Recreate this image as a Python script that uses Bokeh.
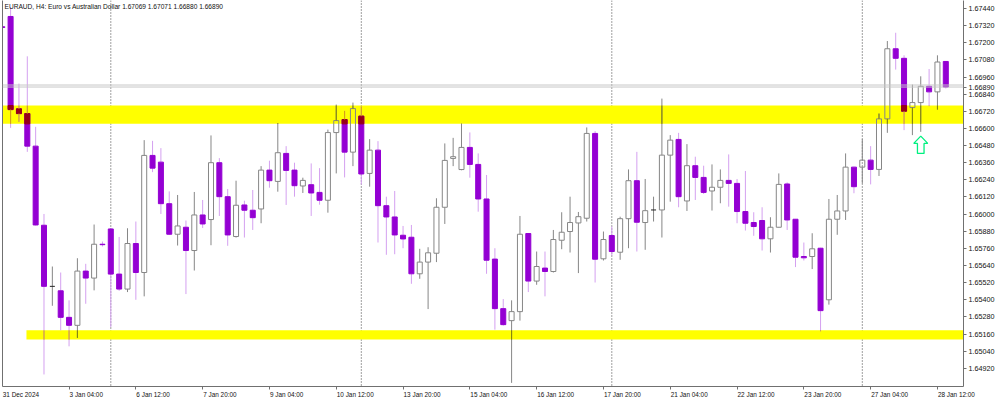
import numpy as np
from bokeh.plotting import figure
from bokeh.models import (FixedTicker, LinearAxis, PrintfTickFormatter, Span, Label, Range1d)
from bokeh.embed import file_html
from bokeh.resources import INLINE

# ---------------- data (EURAUD H4) ----------------
opens = [1.67312, 1.67384, 1.66737, 1.66704, 1.66476, 1.65922, 1.65494, 1.65463, 1.65277, 1.65221,
         1.65601, 1.65552, 1.65789, 1.65896, 1.65580, 1.65475, 1.65794, 1.65591, 1.66411, 1.66364,
         1.66073, 1.65859, 1.65908, 1.65745, 1.65994, 1.65962, 1.66360, 1.66122, 1.65843, 1.66064,
         1.66027, 1.66036, 1.66308, 1.66229, 1.66425, 1.66308, 1.66197, 1.66206, 1.66152, 1.66097,
         1.66571, 1.66662, 1.66434, 1.66686, 1.66285, 1.66448, 1.66059, 1.65980, 1.65852, 1.65838,
         1.65582, 1.65664, 1.65726, 1.66048, 1.66390, 1.66312, 1.66467, 1.66348, 1.66106, 1.65685,
         1.65338, 1.65254, 1.65317, 1.65864, 1.65531, 1.65622, 1.65598, 1.65817, 1.65878, 1.65938,
         1.65971, 1.66565, 1.65687, 1.65850, 1.65733, 1.65968, 1.66234, 1.65941, 1.66029, 1.66029,
         1.66413, 1.66523, 1.66092, 1.66339, 1.66257, 1.66162, 1.66188, 1.66236, 1.66215, 1.66018,
         1.65941, 1.65955, 1.65827, 1.65908, 1.66211, 1.65964, 1.65703, 1.65703, 1.65761, 1.65400,
         1.65964, 1.66022, 1.66329, 1.66329, 1.66378, 1.66313, 1.66667, 1.67158, 1.67091, 1.66746,
         1.66781, 1.66895, 1.66856, 1.67069]
highs = [1.67318, 1.67449, 1.66914, 1.67105, 1.66611, 1.66001, 1.65633, 1.65591, 1.65396, 1.65691,
         1.65652, 1.65927, 1.65808, 1.65900, 1.65840, 1.65901, 1.65948, 1.66518, 1.66513, 1.66462,
         1.66159, 1.66134, 1.65955, 1.66155, 1.66099, 1.66551, 1.66392, 1.66176, 1.66234, 1.66094,
         1.66169, 1.66336, 1.66374, 1.66637, 1.66476, 1.66360, 1.66255, 1.66355, 1.66322, 1.66592,
         1.66767, 1.66723, 1.66781, 1.66755, 1.66525, 1.66511, 1.66122, 1.66162, 1.65917, 1.65924,
         1.65757, 1.65768, 1.66111, 1.66495, 1.66534, 1.66634, 1.66572, 1.66425, 1.66274, 1.65761,
         1.65405, 1.65396, 1.65987, 1.65866, 1.65738, 1.65738, 1.65889, 1.66013, 1.66122, 1.66015,
         1.66607, 1.66581, 1.65878, 1.65913, 1.65982, 1.66313, 1.66436, 1.66246, 1.66122, 1.66809,
         1.66553, 1.66569, 1.66490, 1.66402, 1.66339, 1.66348, 1.66313, 1.66418, 1.66246, 1.66302,
         1.66013, 1.66048, 1.65978, 1.66285, 1.66222, 1.65966, 1.65801, 1.65866, 1.65764, 1.66106,
         1.66134, 1.66425, 1.66332, 1.66525, 1.66476, 1.66704, 1.67212, 1.67270, 1.67112, 1.66907,
         1.66965, 1.67016, 1.67112, 1.67071]
lows = [1.67302, 1.66604, 1.66646, 1.66436, 1.65920, 1.64877, 1.65358, 1.65186, 1.65074, 1.65133,
        1.65372, 1.65466, 1.65773, 1.65209, 1.65463, 1.65454, 1.65400, 1.65424, 1.66294, 1.66001,
        1.65854, 1.65780, 1.65440, 1.65605, 1.65903, 1.65782, 1.65987, 1.65778, 1.65836, 1.65836,
        1.65889, 1.65936, 1.66185, 1.66157, 1.66064, 1.66122, 1.66148, 1.65987, 1.66066, 1.66010,
        1.66285, 1.66257, 1.66336, 1.66207, 1.66192, 1.65801, 1.65715, 1.65719, 1.65761, 1.65512,
        1.65547, 1.65335, 1.65664, 1.65931, 1.66336, 1.66307, 1.66255, 1.66017, 1.65582, 1.65191,
        1.65219, 1.64818, 1.65254, 1.65454, 1.65505, 1.65424, 1.65591, 1.65754, 1.65731, 1.65587,
        1.65948, 1.65521, 1.65675, 1.65710, 1.65680, 1.65761, 1.65738, 1.65750, 1.65948, 1.65836,
        1.66087, 1.66048, 1.66022, 1.66099, 1.66141, 1.66025, 1.66076, 1.66052, 1.65936, 1.65885,
        1.65848, 1.65745, 1.65731, 1.65906, 1.65889, 1.65629, 1.65675, 1.65615, 1.65179, 1.65366,
        1.65855, 1.65959, 1.66146, 1.66215, 1.66208, 1.66267, 1.66569, 1.67012, 1.66588, 1.66553,
        1.66576, 1.66756, 1.66732, 1.66880]
closes = [1.67307, 1.66732, 1.66704, 1.66476, 1.65924, 1.65494, 1.65494, 1.65277, 1.65221, 1.65601,
          1.65552, 1.65789, 1.65786, 1.65580, 1.65475, 1.65794, 1.65591, 1.66411, 1.66322, 1.66073,
          1.65859, 1.65917, 1.65745, 1.65994, 1.65931, 1.66360, 1.66122, 1.65854, 1.66062, 1.66027,
          1.65975, 1.66308, 1.66234, 1.66430, 1.66306, 1.66199, 1.66236, 1.66148, 1.66097, 1.66571,
          1.66655, 1.66434, 1.66739, 1.66281, 1.66448, 1.66059, 1.65980, 1.65854, 1.65826, 1.65582,
          1.65664, 1.65729, 1.66048, 1.66376, 1.66402, 1.66467, 1.66348, 1.66106, 1.65677, 1.65338,
          1.65226, 1.65317, 1.65859, 1.65531, 1.65633, 1.65598, 1.65822, 1.65873, 1.65941, 1.65982,
          1.66565, 1.65684, 1.65822, 1.65738, 1.65968, 1.66234, 1.65943, 1.66024, 1.66029, 1.66413,
          1.66518, 1.66122, 1.66339, 1.66257, 1.66152, 1.66188, 1.66236, 1.66215, 1.66018, 1.65936,
          1.65913, 1.65827, 1.65908, 1.66208, 1.65959, 1.65698, 1.65694, 1.65757, 1.65324, 1.65964,
          1.66022, 1.66329, 1.66192, 1.66378, 1.66313, 1.66667, 1.67158, 1.67091, 1.66721, 1.66781,
          1.66895, 1.66856, 1.67065, 1.66890]

date_tick_idx = [0, 8, 16, 24, 32, 40, 48, 56, 64, 72, 80, 88, 96, 104, 112]
date_tick_labels = ["31 Dec 2024", "3 Jan 04:00", "6 Jan 12:00", "7 Jan 20:00", "9 Jan 04:00",
                    "10 Jan 12:00", "13 Jan 20:00", "15 Jan 04:00", "16 Jan 12:00", "17 Jan 20:00",
                    "21 Jan 04:00", "22 Jan 12:00", "23 Jan 20:00", "27 Jan 04:00", "28 Jan 12:00"]
price_ticks = [1.64920, 1.65040, 1.65160, 1.65280, 1.65400, 1.65520, 1.65640, 1.65760,
               1.65880, 1.66000, 1.66120, 1.66240, 1.66360, 1.66480, 1.66600, 1.66720,
               1.66840, 1.66960, 1.67080, 1.67200, 1.67320, 1.67440]
week_start_idx = [13, 43, 73, 103]

zone_bottom = [1.66632, 1.65121]
zone_top = [1.66760, 1.65186]
zone_left = [-5.0, 2.9]
zone_right = [130.0, 130.0]

bid_price = 1.66890
ask_price = 1.66904
arrow_idx = 110
arrow_price = 1.66546
title_text = "EURAUD, H4:  Euro vs Australian Dollar  1.67069 1.67071 1.66880 1.66890"

# ---------------- style ----------------
PURPLE = "#9400D3"
WICK_BEAR = "#D4A0F0"
GRAY = "#868686"
DARKRED_IN = "#960018"
WICK_BEAR_IN = "#D4A000"
GRAY_IN = "#868600"
YELLOW = "#FFFF00"
AXIS_C = "#707070"
FONT = "Liberation Sans"
DATE_FS = 6.4
BW = 0.6

X0, X1 = 0.03, 115.12
Y0, Y1 = 1.647927, 1.674959
PX_PER_BAR = 8.35
PX_PER_PRICE = 14316.7

O = np.array(opens); H = np.array(highs); L = np.array(lows); C = np.array(closes)
idx = np.arange(len(O), dtype=float)
bull = C > O
bear = C < O
doji = C == O
btop = np.maximum(O, C)
bbot = np.minimum(O, C)

p = figure(width=1000, height=400, x_range=Range1d(X0, X1), y_range=Range1d(Y0, Y1),
           output_backend="svg", toolbar_location=None, y_axis_location="right",
           min_border_left=2, min_border_right=37, min_border_top=0, min_border_bottom=13,
           background_fill_color="white", border_fill_color="white", outline_line_color=None)
p.xgrid.grid_line_color = None
p.ygrid.grid_line_color = None

# zones (white candle bodies are transparent so they appear yellow inside a zone)
p.quad(left=zone_left, right=zone_right, bottom=zone_bottom, top=zone_top,
       fill_color=YELLOW, line_color=None)

# week separators
for w in week_start_idx:
    p.add_layout(Span(location=w, dimension="height", line_color="#404040",
                      line_dash="1 2", line_width=1, level="underlay"))

# bid / ask lines
for lv in (bid_price, ask_price):
    p.add_layout(Span(location=lv, dimension="width", line_color="#C8C8C8", line_width=1))

# wicks
wcol = list(np.where(bear, WICK_BEAR, GRAY))
p.segment(x0=idx, y0=btop, x1=idx, y1=H, line_color=wcol, line_width=1)
p.segment(x0=idx, y0=L, x1=idx, y1=bbot, line_color=wcol, line_width=1)

# bodies
p.vbar(x=idx[bear], width=BW, top=btop[bear], bottom=bbot[bear],
       fill_color=PURPLE, line_color=PURPLE, line_width=1)
p.vbar(x=idx[bull], width=BW, top=btop[bull], bottom=bbot[bull],
       fill_color=None, line_color=GRAY, line_width=1)
p.segment(x0=idx[doji] - BW / 2, y0=O[doji], x1=idx[doji] + BW / 2, y1=O[doji],
          line_color="#202020", line_width=1)

# multiply-like colouring of candle parts inside the yellow zones
for zb, zt, zl, zr in zip(zone_bottom, zone_top, zone_left, zone_right):
    inx = (idx >= zl) & (idx <= zr)
    lo = np.maximum(bbot, zb); hi = np.minimum(btop, zt)
    m = inx & bear & (hi > lo)
    if m.any():
        p.vbar(x=idx[m], width=BW, top=hi[m], bottom=lo[m],
               fill_color=DARKRED_IN, line_color=DARKRED_IN, line_width=1)
    for a, b in ((btop, H), (L, bbot)):
        lo = np.maximum(a, zb); hi = np.minimum(b, zt)
        m = inx & (hi > lo)
        if m.any():
            cols = list(np.where(bear[m], WICK_BEAR_IN, GRAY_IN))
            p.segment(x0=idx[m], y0=lo[m], x1=idx[m], y1=hi[m], line_color=cols, line_width=1)

# up arrow under candle arrow_idx
shape_px = [(0, 0), (7, 7.3), (3.3, 7.3), (3.3, 17.3), (-3.3, 17.3), (-3.3, 7.3), (-7, 7.3)]
ax = [arrow_idx + dx / PX_PER_BAR for dx, dy in shape_px]
ay = [arrow_price - dy / PX_PER_PRICE for dx, dy in shape_px]
p.patch(ax, ay, fill_color=None, line_color="#00F080", line_width=1.3)

# ---- bottom axis: tick marks at the bars (minor ticks), labels left-aligned after them ----
ADV = {" ": 0.278, ":": 0.278, "J": 0.5, "D": 0.722, "c": 0.5}
def text_w(s, fs):
    return sum(ADV.get(ch, 0.556) for ch in s) * fs

label_pos = [round(t + (text_w(s, DATE_FS) / 2 + 0.5) / PX_PER_BAR, 4)
             for t, s in zip(date_tick_idx, date_tick_labels)]
xa = p.xaxis[0]
xa.ticker = FixedTicker(ticks=label_pos, minor_ticks=date_tick_idx)
xa.major_label_overrides = {pos: s for pos, s in zip(label_pos, date_tick_labels)}
xa.major_tick_line_color = None
xa.major_tick_in = 0
xa.major_tick_out = 0
xa.minor_tick_in = 0
xa.minor_tick_out = 3
xa.minor_tick_line_color = AXIS_C
xa.axis_line_color = AXIS_C
xa.major_label_standoff = 1
xa.major_label_text_font = FONT
xa.major_label_text_font_size = f"{DATE_FS}px"
xa.major_label_text_color = "#111111"

# ---- right price axis (bid price shown on it too) ----
ya = p.yaxis[0]
ya.ticker = FixedTicker(ticks=sorted(price_ticks + [bid_price]))
ya.formatter = PrintfTickFormatter(format="%.5f")
ya.major_tick_in = 0
ya.major_tick_out = 3
ya.minor_tick_line_color = None
ya.axis_line_color = AXIS_C
ya.major_tick_line_color = AXIS_C
ya.major_label_standoff = 2
ya.major_label_text_font = FONT
ya.major_label_text_font_size = "7.2px"
ya.major_label_text_color = "#111111"

# left frame line
left_axis = LinearAxis(ticker=FixedTicker(ticks=[]), major_tick_out=0, major_tick_in=0,
                       minor_tick_out=0, minor_tick_in=0, major_label_standoff=0,
                       axis_line_color=AXIS_C)
p.add_layout(left_axis, "left")

# title
p.add_layout(Label(x=X0, y=Y1, x_offset=2, y_offset=-2, text=title_text, text_align="left",
                   text_baseline="top", text_font=FONT, text_font_size="6.6px",
                   text_color="#111111"))

open("out.html", "w").write(file_html(p, INLINE))
